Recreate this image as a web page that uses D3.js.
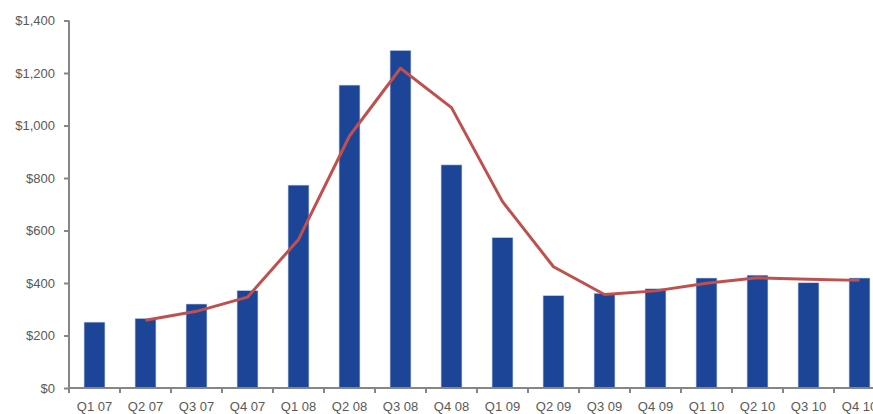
<!DOCTYPE html>
<html>
<head>
<meta charset="utf-8">
<script src="https://cdn.jsdelivr.net/npm/d3@7"></script>
<style>
  body { margin: 0; background: #fff; overflow: hidden; }
  text { font-family: "Liberation Sans", Arial, sans-serif; }
</style>
</head>
<body>
<div id="chart"></div>
<script>
// Quarter labels along the x axis
const quarters = ["Q1 07", "Q2 07", "Q3 07", "Q4 07", "Q1 08", "Q2 08", "Q3 08", "Q4 08",
  "Q1 09", "Q2 09", "Q3 09", "Q4 09", "Q1 10", "Q2 10", "Q3 10", "Q4 10"];

// Bar values
const barValues = [251, 265, 320, 371, 773, 1154, 1286, 850,
  573, 352, 361, 378, 419, 430, 401, 419];

// Red trend line values, starts at the second quarter
const lineValues = [null, 258, 292, 346, 566, 960, 1218, 1068,
  710, 462, 356, 370, 399, 420, 414, 410];

const yTicks = [0, 200, 400, 600, 800, 1000, 1200, 1400];

const width = 873, height = 414;
const margin = { top: 20.5, left: 69, bottom: 388 };

const svg = d3.select("#chart")
  .append("svg")
  .attr("width", width)
  .attr("height", height);

// Plot is wider than the window: the last band is cut off on the right
const x = d3.scaleBand()
  .domain(quarters)
  .range([margin.left, margin.left + 16 * 51])
  .paddingInner(0.59)
  .paddingOuter(0.295);

const y = d3.scaleLinear()
  .domain([0, 1400])
  .range([margin.bottom, margin.top]);

// Bars
svg.append("g")
  .selectAll("rect")
  .data(barValues)
  .join("rect")
  .attr("x", (d, i) => x(quarters[i]))
  .attr("y", d => y(d))
  .attr("width", x.bandwidth())
  .attr("height", d => y(0) - y(d))
  .attr("fill", "#1c4597")
  .attr("stroke", "#c9d3ea")
  .attr("stroke-width", 0.6);

// Trend line
const line = d3.line()
  .defined(d => d != null)
  .x((d, i) => x(quarters[i]) + x.bandwidth() / 2)
  .y(d => y(d));

svg.append("path")
  .datum(lineValues)
  .attr("fill", "none")
  .attr("stroke", "#c0504d")
  .attr("stroke-width", 3)
  .attr("stroke-linejoin", "round")
  .attr("d", line);

// Y axis
const yAxis = svg.append("g")
  .attr("transform", `translate(${margin.left},0)`)
  .call(d3.axisLeft(y)
    .tickValues(yTicks)
    .tickSize(5)
    .tickPadding(9)
    .tickFormat(d => "$" + d3.format(",")(d)));

// X axis, ticks sit between the bands
const xAxis = svg.append("g")
  .attr("transform", `translate(0,${margin.bottom})`)
  .call(d3.axisBottom(x).tickSize(0).tickPadding(14));

xAxis.selectAll(".sep")
  .data(d3.range(quarters.length + 1))
  .join("line")
  .attr("class", "sep")
  .attr("x1", i => margin.left + i * x.step())
  .attr("x2", i => margin.left + i * x.step())
  .attr("y1", 0)
  .attr("y2", 5);

[yAxis, xAxis].forEach(ax => {
  ax.select(".domain").attr("stroke", "#868686").attr("stroke-width", 2);
  ax.selectAll("line").attr("stroke", "#868686").attr("stroke-width", 2);
  ax.selectAll("text")
    .attr("fill", "#595959")
    .style("font-size", "13px");
});
xAxis.select(".domain").attr("d", `M${margin.left},0H${width + 20}`);
yAxis.select(".domain").attr("d", `M-0,${y(1400)}V${y(0)}`);
</script>
</body>
</html>
